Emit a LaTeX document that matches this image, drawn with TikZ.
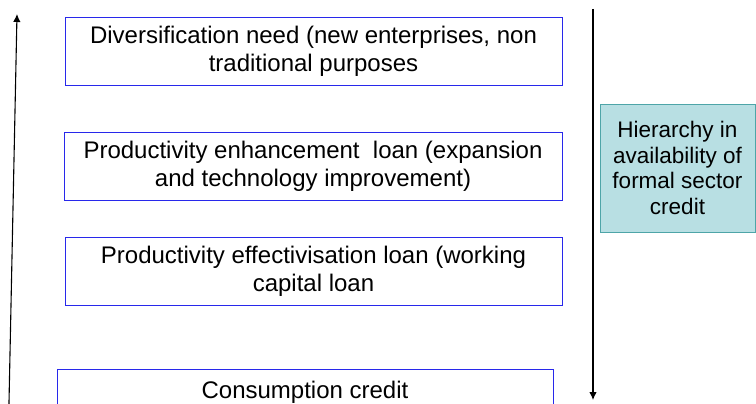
\documentclass[tikz,border=0pt]{standalone}
\usepackage{fontspec}
\setmainfont{Liberation Sans}
\usepackage{tikz}
\usetikzlibrary{arrows.meta}
\definecolor{boxblue}{RGB}{40,40,235}
\definecolor{tealfill}{RGB}{184,223,227}
\definecolor{tealline}{RGB}{78,165,168}
\newcommand{\levelbox}[5]{
\node[level,minimum width=#4] (#1) at (#2,#3) {#5};
}

\begin{document}
\begin{tikzpicture}[x=1pt,y=-1pt,
    level/.style={draw=boxblue,line width=0.9pt,fill=white,align=center,
        minimum height=68pt,inner sep=0pt,
        font=\fontsize{24}{27.6}\selectfont},
    note/.style={draw=tealline,line width=0.9pt,fill=tealfill,align=center,
        minimum width=155pt,minimum height=128pt,inner sep=0pt,
        font=\fontsize{22.5}{25.6}\selectfont},
    updown/.style={line width=1.1pt,-{Latex[length=8pt,width=7.5pt]}}]
\clip (0,0) rectangle (756,404);

    \levelbox{divers}{313.5}{51}{497pt}{Diversification need (new enterprises, non\\traditional purposes}
    \levelbox{enhance}{313}{166.5}{498pt}{Productivity enhancement\ \ loan (expansion\\and technology improvement)}
    \levelbox{effect}{313.5}{271}{497pt}{Productivity effectivisation loan (working\\capital loan}
    % last level runs off the bottom edge
    \node[level,minimum width=496pt,minimum height=46pt,anchor=north] (consum) at (305,369) {Consumption credit};

    \node[note] (hier) at (677.5,168) {Hierarchy in\\availability of\\formal sector\\credit};

    \coordinate (upfoot) at (8.8,412);
    \coordinate (uphead) at (17,14);
    \coordinate (downtop) at (593,9);
    \coordinate (downend) at (593,400);
    \draw[updown] (upfoot) -- (uphead);
    \draw[updown] (downtop) -- (downend);
\end{tikzpicture}
\end{document}
